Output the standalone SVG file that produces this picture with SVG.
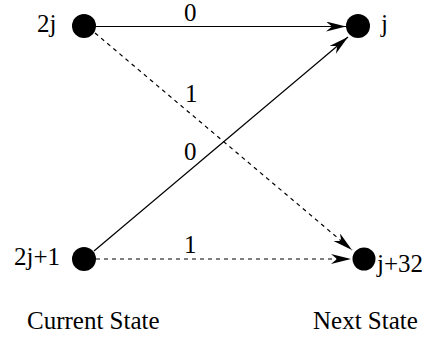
<svg xmlns="http://www.w3.org/2000/svg" width="439" height="338" viewBox="0 0 439 338">
<style>
text{font-family:"Liberation Serif","Times New Roman",serif;font-size:25px;fill:#000}
.e{stroke:#000;stroke-width:1.2;fill:none}
.d{stroke-dasharray:4,4}
.n{fill:#000}
</style>
<defs>
<marker id="a" markerWidth="21" markerHeight="11" refX="20" refY="5" orient="auto" markerUnits="userSpaceOnUse">
<path d="M0,0 L20,5 L0,10 L6,5 Z" fill="#000"/>
</marker>
</defs>
<rect width="439" height="338" fill="#fff"/>
<g id="connectors">
<line class="e" x1="96" y1="26.5" x2="346" y2="26.5" marker-end="url(#a)"/>
<line class="e" x1="94" y1="251" x2="348" y2="37" marker-end="url(#a)"/>
<line class="e d" x1="95" y1="33" x2="352" y2="250" marker-end="url(#a)"/>
<line class="e d" x1="96" y1="259" x2="351" y2="259" marker-end="url(#a)"/>
<text x="184" y="21">0</text>
<text x="185" y="102">1</text>
<text x="184" y="160">0</text>
<text x="184" y="253">1</text>
</g>
<g id="n2j"><circle class="n" cx="84" cy="26" r="12"/><text x="37" y="32">2j</text></g>
<g id="nj"><circle class="n" cx="358" cy="26" r="12"/><text x="381" y="32">j</text></g>
<g id="n2j1"><circle class="n" cx="84" cy="259" r="12"/><text x="14" y="265">2j+1</text></g>
<g id="nj32"><circle class="n" cx="364" cy="259" r="11.5"/><text x="377" y="272">j+32</text></g>
<text x="27" y="329">Current State</text>
<text x="313" y="329">Next State</text>
</svg>
